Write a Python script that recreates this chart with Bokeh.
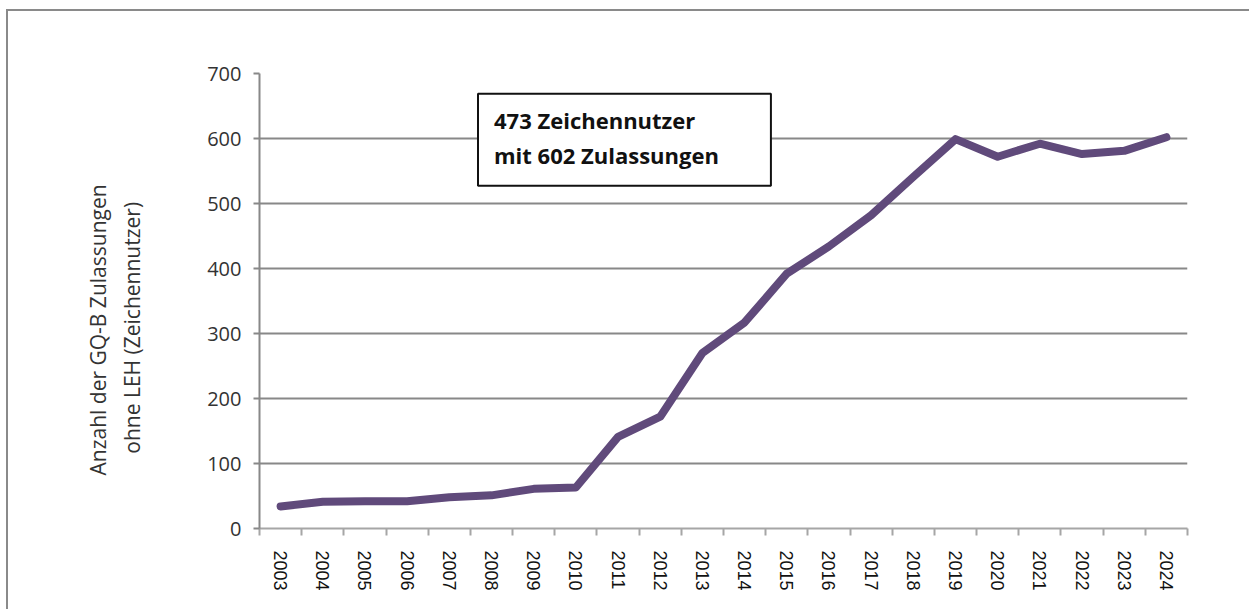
from bokeh.plotting import figure
from bokeh.models import FixedTicker, LinearAxis, Label, Range1d, Title
from bokeh.embed import file_html
from bokeh.resources import INLINE

years = ["2003", "2004", "2005", "2006", "2007", "2008", "2009", "2010", "2011", "2012", "2013",
         "2014", "2015", "2016", "2017", "2018", "2019", "2020", "2021", "2022", "2023", "2024"]
values = [34, 41, 42, 42, 48, 51, 61, 63, 141, 172, 270, 317, 392, 434, 482, 541, 599, 572, 592, 576, 581, 602]
y_ticks = [0, 100, 200, 300, 400, 500, 600, 700]
y_label_1 = "Anzahl der GQ-B Zulassungen"
y_label_2 = "ohne LEH (Zeichennutzer)"
note = "473 Zeichennutzer\nmit 602 Zulassungen"

n = len(years)
xs = [i + 0.5 for i in range(n)]

GRAY = "#888888"

p = figure(width=1243, height=600, output_backend="svg", toolbar_location=None,
           x_range=Range1d(0, n), y_range=Range1d(0, 700),
           min_border_left=251, min_border_right=64, min_border_top=62, min_border_bottom=83,
           x_axis_location=None, y_axis_location=None,
           styles={"margin-left": "6px", "margin-top": "9px",
                   "border-left": "2px solid #8a8a8a", "border-top": "2px solid #8a8a8a",
                   "box-sizing": "border-box"})
p.outline_line_color = None
p.xgrid.visible = False

# y axis
yax = LinearAxis(ticker=FixedTicker(ticks=y_ticks))
yax.axis_line_color = GRAY
yax.axis_line_width = 2
yax.major_tick_line_color = GRAY
yax.major_tick_line_width = 2
yax.major_tick_in = 0
yax.major_tick_out = 6
yax.minor_tick_line_color = None
yax.major_label_text_font = "Open Sans"
yax.major_label_text_font_size = "20px"
yax.major_label_text_color = "#333333"
yax.major_label_standoff = 12
p.add_layout(yax, "left")
p.ygrid.ticker = FixedTicker(ticks=y_ticks)
p.ygrid.grid_line_color = GRAY
p.ygrid.grid_line_width = 2

# y-axis title (two lines, second line centred under the first via no-break spaces)
ytitle = Title(text=y_label_1 + "\n" + "\u00a0\u00a0\u00a0\u00a0" + y_label_2,
               align="left", vertical_align="top", offset=53, standoff=113,
               text_font="Open Sans", text_font_size="21px", text_font_style="normal",
               text_color="#333333", text_line_height=1.2)
p.add_layout(ytitle, "left")

# x axis: labels at category centres, ticks (minor) at category boundaries
xax = LinearAxis(ticker=FixedTicker(ticks=xs, minor_ticks=list(range(n + 1))))
xax.major_label_overrides = {x: y for x, y in zip(xs, years)}
xax.axis_line_color = "#a6a6a6"
xax.axis_line_width = 2
xax.major_tick_line_color = None
xax.major_tick_in = 0
xax.major_tick_out = 0
xax.minor_tick_line_color = "#a6a6a6"
xax.minor_tick_line_width = 2
xax.minor_tick_in = 0
xax.minor_tick_out = 7
xax.major_label_orientation = "vertical"
xax.major_label_text_font = "Liberation Sans"
xax.major_label_text_font_size = "18px"
xax.major_label_text_color = "#111111"
xax.major_label_standoff = 15
p.add_layout(xax, "below")

p.line(xs, values, line_color="#604A7B", line_width=8, line_join="round", line_cap="round")

lab = Label(x=5.18, y=669, text=note, text_font="Open Sans", text_font_style="bold",
            text_font_size="22px", text_color="#111111", text_baseline="top", text_align="left",
            border_line_color="#111111", border_line_width=2, background_fill_color="white",
            padding=dict(left=16, right=52, top=11, bottom=16), text_line_height=1.17)
p.add_layout(lab)

open("out.html", "w").write(file_html(p, INLINE))
